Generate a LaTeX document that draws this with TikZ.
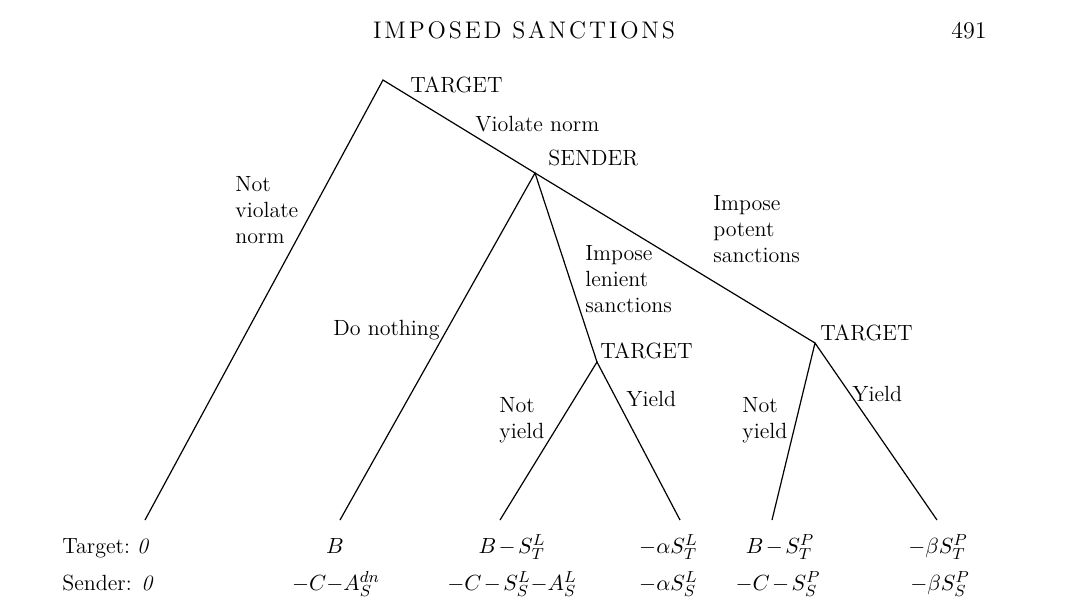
\documentclass[tikz,border=0pt]{standalone}
\usepackage{fontspec}
\usetikzlibrary{positioning}
\tikzset{>=stealth}
\newfontfamily\headfont[LetterSpace=12]{Latin Modern Roman}
\tikzset{branch/.style={line width=0.6pt},
  lab/.style={inner sep=0pt,align=left},
  pay/.style={inner sep=0pt,anchor=base,execute at begin node={\medmuskip=2mu}}}

\begin{document}
\begin{tikzpicture}[x=0.5pt,y=-0.5pt,font=\fontsize{11}{13}\selectfont]
\useasboundingbox (0,0) rectangle (1080,612);
% Running head
\node[pay,font=\headfont\fontsize{12}{14}\selectfont] (title) at (524,38) {IMPOSED SANCTIONS};
\node[pay,anchor=base east,font=\fontsize{12}{14}\selectfont] (page) at (987,38) {491};
% Decision points and leaves
\coordinate (t1) at (383,80);
\coordinate (s) at (535,173);
\coordinate (t2) at (597,362);
\coordinate (t3) at (815,343);
\coordinate (l1) at (145,520);
\coordinate (l2) at (340,520);
\coordinate (l3) at (500,520);
\coordinate (l4) at (680,520);
\coordinate (l5) at (772,520);
\coordinate (l6) at (937,520);
% Draw branches
\draw[branch] (l1) -- (t1) -- (s) -- (t3);
\draw[branch] (l2) -- (s) -- (t2);
\draw[branch] (l3) -- (t2) -- (l4);
\draw[branch] (l5) -- (t3) -- (l6);
% Player names
\node[lab,anchor=west] (t1lab) at (410,85) {TARGET};
\node[lab,anchor=west] (slab) at (548,158) {SENDER};
\node[lab,anchor=west] (t2lab) at (600,351) {TARGET};
\node[lab,anchor=west] (t3lab) at (820,333) {TARGET};
% Action labels
\node[lab,anchor=west] (viol) at (475,124) {Violate norm};
\node[lab,anchor=north west] (notviol) at (235,176) {Not\\violate\\norm};
\node[lab,anchor=west] (nothing) at (333,330) {Do nothing};
\node[lab,anchor=north west] (lenient) at (585,245) {Impose\\lenient\\sanctions};
\node[lab,anchor=north west] (potent) at (713,195) {Impose\\potent\\sanctions};
\node[lab,anchor=north west] (noyield1) at (499,397) {Not\\yield};
\node[lab,anchor=west] (yield1) at (626,399) {Yield};
\node[lab,anchor=north west] (noyield2) at (742,397) {Not\\yield};
\node[lab,anchor=west] (yield2) at (852,394) {Yield};
% Payoffs
\node[pay,anchor=base west] (tpay1) at (62,553) {Target:\ \textit{0}};
\node[pay,anchor=base west] (spay1) at (62,590) {Sender: \textit{0}};
\node[pay] (tpay2) at (335,553) {$B$};
\node[pay] (spay2) at (336,590) {$-C{-}A^{dn}_S$};
\node[pay] (tpay3) at (512,553) {$B-S^L_T$};
\node[pay] (spay3) at (512,590) {$-C-S^L_S{-}A^L_S$};
\node[pay,anchor=base east] (tpay4) at (698,553) {$-\alpha S^L_T$};
\node[pay,anchor=base east] (spay4) at (698,590) {$-\alpha S^L_S$};
\node[pay] (tpay5) at (780,553) {$B-S^P_T$};
\node[pay] (spay5) at (778,590) {$-C-S^P_S$};
\node[pay] (tpay6) at (938,553) {$-\beta S^P_T$};
\node[pay] (spay6) at (940,590) {$-\beta S^P_S$};
\end{tikzpicture}
\end{document}
